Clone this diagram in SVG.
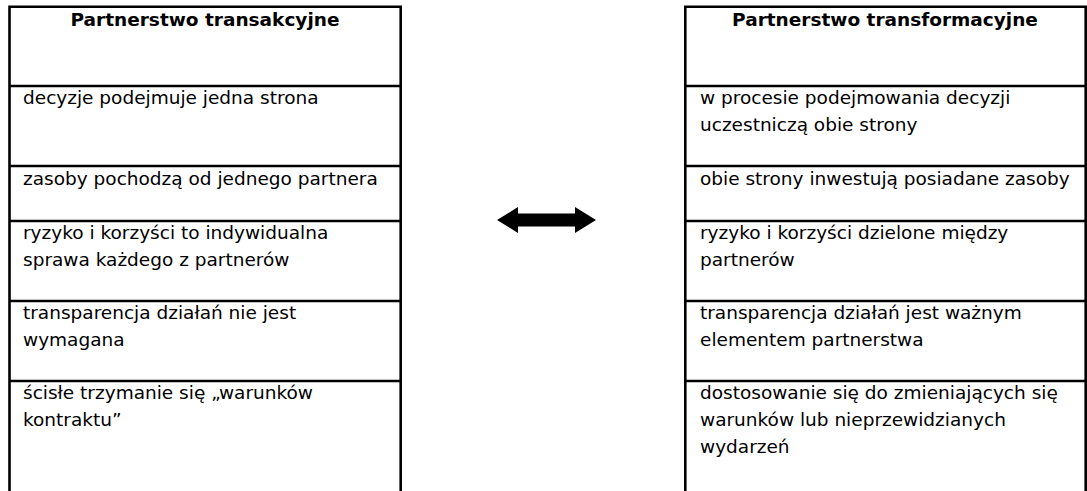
<svg xmlns="http://www.w3.org/2000/svg" width="1087" height="491" viewBox="0 0 1087 491">
<style>
.ln{stroke:#000;stroke-width:2.6;fill:none}
.t{font-family:"DejaVu Sans","Verdana",sans-serif;font-size:18.5px;fill:#000}
.h{font-family:"DejaVu Sans","Verdana",sans-serif;font-size:18.5px;font-weight:bold;fill:#000;text-anchor:middle}
</style>
<rect width="1087" height="491" fill="#fff"/>
<g id="left-table">
<path class="ln" d="M9.5,492 V6.7 H400.7 V492 M9.5,86 H400.7 M9.5,166 H400.7 M9.5,221 H400.7 M9.5,301 H400.7 M9.5,381 H400.7"/>
<text class="h" x="205" y="26">Partnerstwo transakcyjne</text>
<text class="t" x="23" y="104">decyzje podejmuje jedna strona</text>
<text class="t" x="23" y="185">zasoby pochodzą od jednego partnera</text>
<text class="t" x="23" y="239">ryzyko i korzyści to indywidualna</text>
<text class="t" x="23" y="266">sprawa każdego z partnerów</text>
<text class="t" x="23" y="319">transparencja działań nie jest</text>
<text class="t" x="23" y="346">wymagana</text>
<text class="t" x="23" y="399">ścisłe trzymanie się „warunków</text>
<text class="t" x="23" y="426">kontraktu”</text>
</g>
<g id="right-table">
<path class="ln" d="M685.3,492 V6.7 H1085.7 V492 M685.3,86 H1085.7 M685.3,166 H1085.7 M685.3,221 H1085.7 M685.3,301 H1085.7 M685.3,381 H1085.7"/>
<text class="h" x="885" y="26">Partnerstwo transformacyjne</text>
<text class="t" x="700" y="104">w procesie podejmowania decyzji</text>
<text class="t" x="700" y="131">uczestniczą obie strony</text>
<text class="t" x="700" y="185">obie strony inwestują posiadane zasoby</text>
<text class="t" x="700" y="239">ryzyko i korzyści dzielone między</text>
<text class="t" x="700" y="266">partnerów</text>
<text class="t" x="700" y="319">transparencja działań jest ważnym</text>
<text class="t" x="700" y="346">elementem partnerstwa</text>
<text class="t" x="700" y="399">dostosowanie się do zmieniających się</text>
<text class="t" x="700" y="426">warunków lub nieprzewidzianych</text>
<text class="t" x="700" y="453">wydarzeń</text>
</g>
<g id="connectors">
<polygon points="497,220 518,207 518,213.5 575,213.5 575,207 596,220 575,233 575,226.5 518,226.5 518,233" fill="#000"/>
</g>
</svg>
